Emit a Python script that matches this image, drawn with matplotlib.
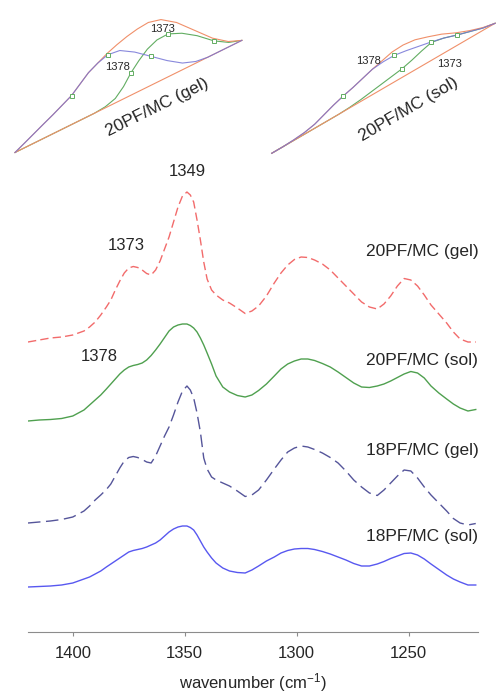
import numpy as np
import matplotlib
matplotlib.use("Agg")
import matplotlib.pyplot as plt
from matplotlib.transforms import Affine2D

plt.rcParams['font.family'] = ['Liberation Sans', 'DejaVu Sans']
plt.rcParams['mathtext.default'] = 'regular'

# Amide III region, wavenumber grid (cm-1)
wn = [1420, 1415, 1410, 1405, 1400, 1395, 1392.5, 1390, 1387.5, 1385,
      1383, 1381, 1379, 1377, 1375, 1373, 1371, 1369, 1367, 1365,
      1363, 1361, 1359, 1357, 1355, 1353, 1351, 1349, 1347.5, 1346,
      1344.5, 1343, 1341.5, 1340, 1338, 1336, 1333, 1330, 1326.5, 1323,
      1320, 1317, 1313.5, 1310, 1307, 1304, 1301, 1298, 1295, 1292,
      1288.5, 1285, 1281.5, 1278, 1274.5, 1271, 1267.5, 1264, 1261, 1258,
      1255, 1252, 1249, 1246, 1243, 1240, 1236.5, 1233, 1230, 1227,
      1223.5, 1220]

# absorbance above each spectrum's own baseline (a.u.)
pf20_gel = [0.00, 0.02, 0.04, 0.05, 0.07, 0.11, 0.15, 0.20, 0.27, 0.35,
            0.42, 0.52, 0.61, 0.69, 0.74, 0.755, 0.745, 0.72, 0.685, 0.67,
            0.72, 0.81, 0.93, 1.05, 1.20, 1.35, 1.46, 1.50, 1.47, 1.40,
            1.22, 1.02, 0.80, 0.63, 0.52, 0.47, 0.42, 0.39, 0.34, 0.285,
            0.31, 0.36, 0.46, 0.59, 0.69, 0.77, 0.825, 0.85, 0.845, 0.82,
            0.78, 0.72, 0.64, 0.56, 0.48, 0.40, 0.35, 0.33, 0.38, 0.46,
            0.56, 0.635, 0.62, 0.56, 0.47, 0.37, 0.28, 0.19, 0.10, 0.03,
            0.00, 0.00]
pf20_sol = [0.00, 0.01, 0.015, 0.025, 0.05, 0.11, 0.16, 0.21, 0.26, 0.32,
            0.37, 0.42, 0.47, 0.51, 0.54, 0.555, 0.565, 0.58, 0.61, 0.655,
            0.71, 0.77, 0.835, 0.90, 0.94, 0.96, 0.97, 0.97, 0.955, 0.93,
            0.89, 0.83, 0.76, 0.68, 0.57, 0.45, 0.34, 0.29, 0.255, 0.24,
            0.26, 0.305, 0.37, 0.45, 0.52, 0.57, 0.60, 0.62, 0.62, 0.605,
            0.575, 0.54, 0.49, 0.435, 0.38, 0.34, 0.335, 0.35, 0.37, 0.40,
            0.435, 0.47, 0.495, 0.48, 0.43, 0.35, 0.28, 0.22, 0.17, 0.13,
            0.10, 0.115]
pf18_gel = [0.00, 0.01, 0.02, 0.035, 0.06, 0.12, 0.17, 0.23, 0.28, 0.335,
            0.39, 0.47, 0.55, 0.62, 0.655, 0.665, 0.655, 0.635, 0.61, 0.60,
            0.67, 0.77, 0.87, 0.96, 1.08, 1.21, 1.32, 1.37, 1.33, 1.25,
            1.10, 0.91, 0.65, 0.54, 0.46, 0.43, 0.40, 0.37, 0.32, 0.265,
            0.28, 0.33, 0.43, 0.54, 0.63, 0.71, 0.75, 0.77, 0.76, 0.735,
            0.70, 0.655, 0.60, 0.52, 0.43, 0.36, 0.30, 0.275, 0.33, 0.40,
            0.47, 0.53, 0.52, 0.45, 0.36, 0.28, 0.20, 0.12, 0.045, 0.00,
            -0.02, -0.005]
pf18_sol = [0.00, 0.005, 0.01, 0.02, 0.04, 0.08, 0.10, 0.13, 0.16, 0.20,
            0.23, 0.26, 0.29, 0.32, 0.35, 0.365, 0.375, 0.385, 0.40, 0.42,
            0.44, 0.47, 0.51, 0.55, 0.58, 0.60, 0.61, 0.61, 0.595, 0.57,
            0.52, 0.46, 0.40, 0.35, 0.29, 0.24, 0.19, 0.16, 0.145, 0.14,
            0.17, 0.21, 0.26, 0.30, 0.34, 0.365, 0.38, 0.385, 0.385, 0.375,
            0.355, 0.33, 0.30, 0.27, 0.235, 0.21, 0.21, 0.23, 0.255, 0.285,
            0.31, 0.335, 0.34, 0.32, 0.28, 0.23, 0.175, 0.12, 0.08, 0.05,
            0.02, 0.02]

names = ['20PF/MC (gel)', '20PF/MC (sol)', '18PF/MC (gel)', '18PF/MC (sol)']
offsets = [2.90, 2.11, 1.09, 0.45]

# band fitting of the 1378/1373 shoulder (inset panels)
wn_fit = [1400, 1397.5, 1395, 1392.5, 1390, 1387.5, 1385, 1382.5, 1380, 1377.5, 1375,
          1372.5, 1370, 1367.5, 1365, 1362.5, 1360, 1357.5, 1355, 1352.5, 1350]
gel_sum = [0, .042, .085, .128, .17, .215, .26, .325, .39, .435, .48,
           .515, .544, .565, .575, .545, .45, .30, .15, .05, 0]
gel_1378 = [0, .042, .085, .128, .17, .215, .26, .325, .39, .435, .465,
            .45, .37, .26, .15, .06, .015, 0, 0, 0, 0]
gel_1373 = [0, 0, 0, 0, 0, 0, 0, 0, .01, .04, .11,
            .20, .275, .34, .38, .385, .33, .24, .12, .04, 0]
sol_sum = [0, 0, .005, .015, .035, .07, .105, .135, .16, .19, .22,
           .245, .27, .275, .26, .22, .175, .115, .065, .025, 0]
sol_1378 = [0, 0, .005, .015, .035, .07, .105, .135, .16, .19, .22,
            .23, .23, .21, .185, .16, .13, .09, .055, .02, 0]
sol_1373 = [0, 0, 0, 0, 0, 0, 0, .005, .015, .03, .045,
            .06, .075, .10, .13, .155, .13, .09, .055, .02, 0]

txt = '#262626'
fig = plt.figure(figsize=(4.96, 6.96), dpi=100)
ax = fig.add_axes([28/496, 64/696, 450/496, 472/696])

styles = [dict(color='#f26b6b', dashes=(6, 3)),
          dict(color='#4fa04f'),
          dict(color='#55559a', dashes=(9, 4)),
          dict(color='#5858f0')]
for vals, off, st in zip([pf20_gel, pf20_sol, pf18_gel, pf18_sol], offsets, styles):
    ax.plot(wn, np.array(vals) + off, lw=1.0, **st)

label_y = [3.80, 2.71, 1.81, 0.95]
for name, y in zip(names, label_y):
    ax.text(1244, y, name, ha='center', va='center', fontsize=12.5, color=txt)

ax.text(1349, offsets[0] + 1.50 + 0.20, '1349', ha='center', va='center', fontsize=12, color=txt)
ax.text(1376, offsets[0] + 0.755 + 0.21, '1373', ha='center', va='center', fontsize=12, color=txt)
ax.text(1388, 2.75, '1378', ha='center', va='center', fontsize=12, color=txt)

ax.set_xlim(1420, 1219)
ax.set_ylim(0, 4.72)
for s in ['left', 'right', 'top']:
    ax.spines[s].set_visible(False)
ax.spines['bottom'].set_color('#8c8c8c')
ax.set_yticks([])
ax.set_xticks([1400, 1350, 1300, 1250])
ax.tick_params(axis='x', direction='out', length=3, color='#8c8c8c',
               labelsize=12, labelcolor=txt, pad=7)
ax.set_xlabel('wavenumber (cm$^{-1}$)', fontsize=12, color=txt, labelpad=7)

# rotated inset panels drawn on a transparent overlay
ov = fig.add_axes([0, 0, 1, 1])
ov.set_axis_off()


def panel_transform(x0, y0, sx, angle):
    return (Affine2D().translate(-1400, 0).scale(-sx, 100).rotate_deg(angle)
            .translate(x0, 696 - y0).scale(0.01) + fig.dpi_scale_trans)


panels = [
    (15, 152.5, 5.06, 26.3, gel_sum, gel_1378, gel_1373, [6, 10, 13], [11, 15, 18],
     (1374.3, 0.315), (1363.1, 0.456), (1370.9, -0.225), '20PF/MC (gel)'),
    (271.7, 153.3, 5.17, 30.2, sol_sum, sol_1378, sol_1373, [7, 12], [12, 15, 17],
     (1374.8, 0.314), (1361.5, -0.125), (1372.9, -0.313), '20PF/MC (sol)'),
]
orange = '#f0906a'
blue = '#7474d6'
green = '#62ad62'
for (x0, y0, sx, ang, tot, b1, b2, mk1, mk2, p1378, p1373, pt, title) in panels:
    tr = panel_transform(x0, y0, sx, ang)
    ov.plot(wn_fit, b2, color=green, lw=0.8, transform=tr)
    ov.plot([1400, 1350], [0, 0], color=orange, lw=0.8, transform=tr)
    ov.plot(wn_fit, tot, color=orange, lw=0.8, transform=tr)
    ov.plot(wn_fit, b1, color=blue, lw=0.8, alpha=0.85, transform=tr)
    wf = np.array(wn_fit)
    ov.plot(wf[mk1], np.array(b1)[mk1], ls='none', marker='s', ms=3.2, mfc='white',
            mec=green, mew=0.7, transform=tr)
    ov.plot(wf[mk2], np.array(b2)[mk2], ls='none', marker='s', ms=3.2, mfc='white',
            mec=green, mew=0.7, transform=tr)
    ov.text(*p1378, '1378', fontsize=8, color=txt, ha='center', va='center', transform=tr)
    ov.text(*p1373, '1373', fontsize=8, color=txt, ha='center', va='center', transform=tr)
    ov.text(*pt, title, fontsize=12.5, color=txt, ha='center', va='center',
            rotation=ang, rotation_mode='anchor', transform=tr)

fig.savefig('out.png', dpi=100)
